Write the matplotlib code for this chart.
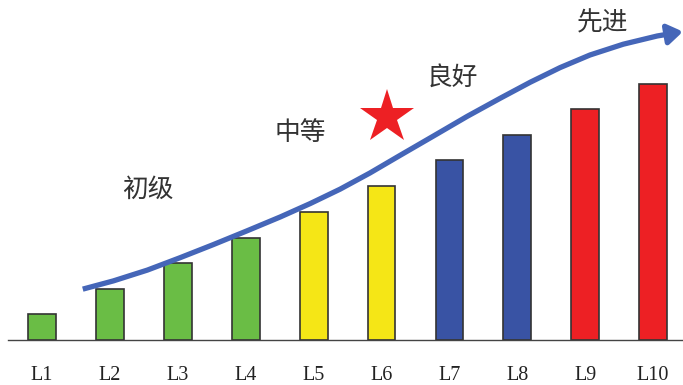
"""Capability level bar chart with growth arrow."""

import matplotlib
matplotlib.use("Agg")
import matplotlib.pyplot as plt
from matplotlib.patches import FancyArrowPatch
from matplotlib.path import Path
import numpy as np

# --- data ---
levels = ["L1", "L2", "L3", "L4", "L5", "L6", "L7", "L8", "L9", "L10"]
values = [1.0, 1.98, 2.98, 3.97, 4.97, 5.98, 6.99, 7.99, 9.0, 9.95]
bar_colors = ["#6abd45"] * 4 + ["#f5e616"] * 2 + ["#3953a4"] * 2 + ["#ed2024"] * 2

stage_names = ["初级", "中等", "良好", "先进"]
stage_pos = [(1.56, 5.84), (3.80, 8.05), (6.04, 10.19), (8.25, 12.30)]

# growth curve (data units)
curve_x = [0.60, 1.05, 1.55, 2.03, 2.52, 3.02, 3.51, 3.95, 4.39, 4.83,
           5.27, 5.76, 6.26, 6.75, 7.19, 7.63, 8.07, 8.56, 9.06, 9.44]
curve_y = [1.98, 2.30, 2.72, 3.20, 3.71, 4.25, 4.79, 5.31, 5.87, 6.50,
           7.18, 7.93, 8.70, 9.41, 10.03, 10.60, 11.09, 11.51, 11.83, 12.00]

star_pos = (5.08, 8.68)

fig = plt.figure(figsize=(6.83, 3.85), dpi=100)
ax = fig.add_axes([0, 0, 1, 1])
ax.set_xlim(-0.619, 9.44)
ax.set_ylim(-1.75, 13.23)

x = np.arange(len(levels))
ax.bar(x, values, width=0.41, color=bar_colors, edgecolor="#333333", linewidth=1.2, zorder=2)

# baseline / ticks
for side in ["top", "right", "left"]:
    ax.spines[side].set_visible(False)
ax.spines["bottom"].set_position(("data", 0))
ax.spines["bottom"].set_bounds(-0.5, 9.44)
ax.spines["bottom"].set_color("#444444")
ax.spines["bottom"].set_linewidth(1.0)
ax.set_yticks([])
ax.set_xticks(x)
ax.set_xticklabels(levels, family="Liberation Serif", fontsize=14.5, color="#222222")
ax.tick_params(axis="x", length=0, pad=18.5)

# growth arrow
curve_color = "#4566b8"
verts = list(zip(curve_x, curve_y))
codes = [Path.MOVETO] + [Path.LINETO] * (len(verts) - 1)
arrow = FancyArrowPatch(path=Path(verts, codes),
                        arrowstyle="-|>,head_length=0.75,head_width=0.5",
                        mutation_scale=12, color=curve_color, linewidth=3.8,
                        joinstyle="round", capstyle="butt",
                        transform=ax.transData, clip_on=False, zorder=3)
ax.add_patch(arrow)

# stage labels
for name, (sx, sy) in zip(stage_names, stage_pos):
    ax.text(sx, sy, name, family=["Noto Sans CJK SC", "DejaVu Sans"], fontsize=18.5,
            fontweight="light", color="#333333", ha="center", va="center")

ax.plot(*star_pos, marker="*", markersize=41, color="#ed2024", markeredgewidth=0, zorder=4)

fig.savefig("out.png", dpi=100)
